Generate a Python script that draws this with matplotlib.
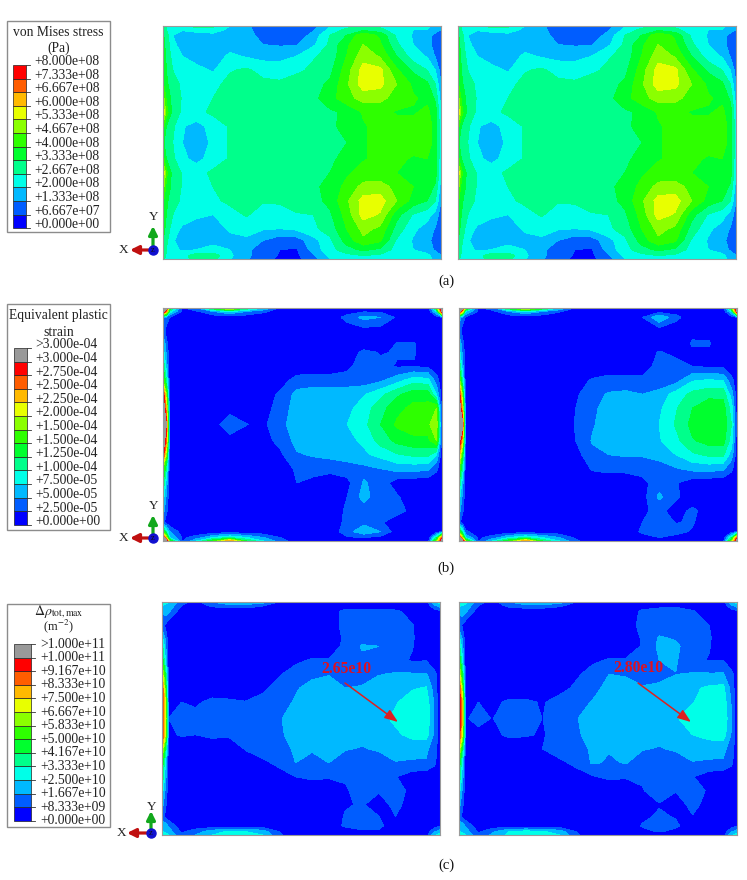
import numpy as np
import matplotlib
matplotlib.use('Agg')
import matplotlib.pyplot as plt
from matplotlib.patches import Rectangle

plt.rcParams['font.family'] = ['Liberation Serif', 'DejaVu Serif']
plt.rcParams['mathtext.fontset'] = 'stix'

# band colours, bottom to top
band_colors = ['#0000ff', '#005dff', '#00b9ff', '#00ffe8', '#00ff8b', '#00ff2e',
               '#2eff00', '#8bff00', '#e8ff00', '#ffb900', '#ff5d00', '#ff0000']
over_color = '#999999'

stress_labels = ['+8.000e+08', '+7.333e+08', '+6.667e+08', '+6.000e+08', '+5.333e+08',
                 '+4.667e+08', '+4.000e+08', '+3.333e+08', '+2.667e+08', '+2.000e+08',
                 '+1.333e+08', '+6.667e+07', '+0.000e+00']
strain_labels = ['>3.000e-04', '+3.000e-04', '+2.750e-04', '+2.500e-04', '+2.250e-04',
                 '+2.000e-04', '+1.500e-04', '+1.500e-04', '+1.250e-04', '+1.000e-04',
                 '+7.500e-05', '+5.000e-05', '+2.500e-05', '+0.000e+00']
rho_labels = ['>1.000e+11', '+1.000e+11', '+9.167e+10', '+8.333e+10', '+7.500e+10',
              '+6.667e+10', '+5.833e+10', '+5.000e+10', '+4.167e+10', '+3.333e+10',
              '+2.500e+10', '+1.667e+10', '+8.333e+09', '+0.000e+00']

# grid stops as fractions of the panel, y counted from the top
x_stress = [0, .012, .035, .07, .12, .18, .24, .3, .36, .42, .48, .54, .6, .66, .72, .78, .84, .9, .95, .98, 1]
y_stress = [0, .015, .04, .08, .13, .19, .25, .31, .37, .43, .5, .57, .63, .69, .75, .81, .87, .92, .96, .985, 1]
x_edge = [0, .012, .024, .07, .12, .18, .24, .3, .36, .42, .48, .54, .6, .66, .72, .78, .84, .9, .95, .98, 1]
y_edge = [0, .015, .04, .1, .155, .19, .25, .31, .37, .43, .5, .57, .63, .69, .75, .81, .87, .92, .96, .985, 1]

# fields in units of one legend band
stress_field = [
    [4.5,4,3.5,3.6,4.4,4.3,3,2.2,1.6,1,.9,1.6,3,3.6,4,3.8,3.4,3.2,3.2,2.6,2],
    [5,4,3.4,3.3,3.5,3.5,2.8,2.2,1.6,1.2,1.1,1.8,3.2,4.2,4.6,4.2,3.5,3,3,2.5,2],
    [5.2,4.4,3,1.9,2.4,2.7,2.6,2.3,1.7,1.4,1.2,2.4,4,5,6.8,5.8,3.8,2.9,2.5,1.6,1.5],
    [5.5,4.5,3.4,2.3,2.5,2.8,2.6,2.8,2,1.9,1.9,2.8,4.2,5.8,7,6.2,4.2,3,2.4,1.6,1.5],
    [5.8,4.8,3.6,3,2.6,2.4,3.2,2.9,2.7,2.7,3,3.9,4.3,6,7.6,6.9,5,3.5,2.9,1.9,1.5],
    [6,5,4,3.6,3.3,2.9,3.9,4.2,3.6,3.5,3.8,4.2,4.7,6.5,8.4,8.3,6.2,4.8,4,3,1.5],
    [6.2,5.2,4.4,3.8,3.4,3.7,4.3,4.5,4.3,4.2,4.5,4.6,5.2,6.8,8.5,8.3,7,5.8,5.2,4,2],
    [7.5,5.8,4.6,3.9,3.5,4,4.4,4.6,4.6,4.6,4.6,4.7,5.6,6.6,7.4,7.3,6.6,6.1,5.8,4.8,2.5],
    [9.2,6.5,4.6,3.8,3.7,4.2,4.5,4.6,4.6,4.6,4.6,4.7,4.8,5.2,6.1,6.3,5.9,5.9,6.2,5.5,3],
    [6.5,5,4.2,3.1,2.6,3.4,4.1,4.5,4.6,4.6,4.6,4.6,4.8,5.3,5.9,6.3,6.4,6.3,6.4,5.7,3.2],
    [5.2,4.6,4,3,2.4,3.2,4.1,4.5,4.6,4.6,4.6,4.6,4.7,4.98,5.9,6.3,6.4,6.4,6.4,5.7,3.2],
    [6.5,5,4.2,3.2,2.7,3.4,4.1,4.5,4.6,4.6,4.6,4.6,4.8,5.3,5.9,6.3,6.2,5.9,6,5.6,3.1],
    [9,6.3,4.6,3.9,3.6,4.2,4.5,4.6,4.6,4.6,4.6,4.7,5,5.8,6.4,6.4,6,5.8,5.7,5.4,3],
    [7.5,5.7,4.6,3.9,3.6,4,4.4,4.6,4.6,4.6,4.6,4.8,5.3,6.3,7.3,7.4,6.7,6,5.6,4.8,2.5],
    [6.2,5.2,4.4,3.8,3.5,3.8,4.2,4.4,4.1,4.2,4.5,4.6,5.3,6.8,8.4,8.5,7,5.6,5,4,2],
    [6,5,4,3.6,3.2,3,3.6,4.1,3.5,3.4,3.9,4,4.8,6.4,8.4,7.9,5.4,3.9,3.4,2.6,1.5],
    [5.5,4.6,3.5,2.8,2.5,2.6,3.1,3.4,3.1,3,3.2,3.8,4.4,6,7.3,6.8,4.6,3.2,2.6,1.9,1.5],
    [5,4.2,3.2,2.2,2.4,2.7,2.8,2.8,2,1.4,1.5,2.6,3.8,5.4,6.8,6.2,3.9,2.9,2.3,1.6,1.5],
    [4.8,4,3.4,2.8,3,3.3,3,2.2,1.5,1,.9,2.4,3.6,4.6,5.2,4.8,3.6,3,2.6,1.8,1.5],
    [4.5,3.9,3.5,3.6,4.5,4.5,3.2,2.2,1.5,.9,.8,1.8,3.2,3.7,4,3.8,3.4,3.2,3.2,2.7,2],
    [4.2,3.8,3.5,3.6,4.4,4.3,3.1,2.1,1.4,.8,.7,1.6,3,3.5,3.6,3.5,3.4,3.2,3.2,2.8,2.2],
]

strain_left = [
    [13,13,6,.8,2,6,10,5,3,.8,.3,.3,.3,.3,.3,.3,.3,.3,.3,6,13],
    [13,10,3.5,.8,.8,2,3,2,1.2,.5,.3,.3,.3,.5,.9,.8,.5,.3,.3,3,12],
    [2,1.5,1,.3,.2,.3,.3,.3,.3,.3,.3,.3,.3,1.4,2.3,2,.8,.3,.3,.5,.8],
    [1.5,.6,.3,.3,.3,.3,.3,.3,.3,.3,.3,.3,.3,.3,.5,.4,.3,.3,.3,.3,.3],
    [3,1.4,.3,.3,.3,.3,.3,.3,.3,.3,.3,.3,.3,.3,.3,.3,1.1,1.1,.3,.3,.3],
    [3.5,1.8,.3,.3,.3,.3,.3,.3,.3,.3,.3,.3,.3,.3,1.3,.9,1.1,1.1,.3,.3,.3],
    [5,2.5,.3,.3,.3,.3,.3,.3,.3,.3,.3,.3,.3,.7,1.6,1.3,.9,.9,.8,.3,.3],
    [7,4,.3,.3,.3,.3,.3,.3,.3,.5,1.4,1.5,1.5,1.5,1.4,1.8,2.6,3.6,3.3,1.5,.3],
    [12.5,7,.4,.3,.3,.3,.3,.3,.4,1.2,2.3,2.5,2.5,2.5,2.9,3.7,4.8,5.6,5.5,3,.3],
    [14,9,.5,.3,.3,.3,.8,.6,.5,1.5,2.4,2.6,2.8,2.7,3.5,4.6,5.7,6.3,6.4,7,.3],
    [14,12,.5,.3,.3,.8,1.3,1.02,.8,1.7,2.5,3,2.7,3,3.7,5,6.2,6.6,6.7,8,.3],
    [14,10,.5,.3,.3,.3,.8,.5,.6,1.3,2.3,2.5,2.5,2.7,3.2,4.4,5.3,5.7,5.7,7,.3],
    [12,7,.4,.3,.3,.3,.3,.3,.4,.8,1.9,2.1,2.3,2.5,2.8,3.3,3.9,4.2,4.3,3,.3],
    [7,4,.3,.3,.3,.3,.3,.3,.3,.3,1.2,1.4,1.3,1.5,1.7,2,2.4,2.4,2.2,1.2,.3],
    [5,2.5,.3,.3,.3,.3,.3,.3,.3,.3,1,.7,.4,.7,2.1,1.6,.4,.3,.3,.3,.3],
    [3.5,1.8,.3,.3,.3,.3,.3,.3,.3,.3,.3,.3,.3,1,2.4,1.3,1.1,.3,.3,.3,.3],
    [2.5,1.2,.3,.3,.3,.3,.3,.3,.3,.3,.3,.3,.3,1.2,1.5,1.05,1.3,.7,.3,.3,.3],
    [1.2,.6,.2,.3,.3,.3,.3,.3,.3,.3,.3,.3,.3,1.3,1.7,1.1,.5,.3,.3,.3,.3],
    [6,4,2,.5,.3,.3,.3,.3,.3,.3,.3,.3,.3,1.6,2.7,2,.4,.3,.3,.6,1],
    [13,8,3,.8,1.4,3,4,3,2,1,.3,.3,.3,.9,1,.7,.3,.3,.3,4,10],
    [13,13,6,.8,3,6,10,5,3,1.5,.3,.3,.3,.3,.3,.3,.3,.3,.3,7,13],
]

strain_right = [
    [13,13,7,.8,1.5,6,10,6,3,.8,.3,.3,.3,.3,.3,.3,.3,.3,.3,6,13],
    [13,9,3,.8,.7,2,3,2,1.1,.5,.3,.3,.3,.4,.6,.6,.3,.3,.3,3,12],
    [2.5,1.5,.9,.3,.3,.3,.3,.3,.3,.3,.3,.3,.3,1,2.9,1.3,.3,.3,.3,.5,.8],
    [1.5,.6,.3,.3,.3,.3,.3,.3,.3,.3,.3,.3,.3,.3,.3,.3,.7,.7,.3,.3,.3],
    [3,1.5,.3,.3,.3,.3,.3,.3,.3,.3,.3,.3,.3,.3,.3,0,1.15,1.1,0,.3,.3],
    [3.5,1.8,.3,.3,.3,.3,.3,.3,.3,.3,.3,.3,.3,.3,1.1,.7,.7,.7,.3,.3,.3],
    [5,2.5,.3,.3,.3,.3,.3,.3,.3,.3,.3,.3,.3,.3,1.5,1.4,1,.8,.8,.3,.3],
    [8,4,.3,.3,.3,.3,.3,.3,.3,.6,1.1,1.4,1.4,1.3,1.2,1.6,2.9,3.1,2.9,1.3,.3],
    [12.5,7,.4,.3,.3,.3,.3,.3,.3,.8,1.7,2.1,2.2,2,2.4,3.4,4.3,4.7,4.7,2.5,.4],
    [14,9,.5,.3,.3,.3,.3,.3,.4,1,1.8,2.4,2.5,2.5,2.8,3.9,5,5.6,5.5,3.5,.4],
    [14,13,.5,.3,.3,.3,.3,.3,.5,1.05,1.9,2.5,2.6,2.7,3,4.1,5.3,5.8,5.8,4,.5],
    [13,9,.5,.3,.3,.3,.3,.3,.4,1,2.1,2.5,2.6,2.7,2.9,3.7,4.9,5.4,5.4,3.5,.4],
    [10,6,.4,.3,.3,.3,.3,.3,.3,.6,1.7,2,2.1,2.1,2.3,3,3.8,4.2,4.2,2.5,.4],
    [7,4,.3,.3,.3,.3,.3,.3,.3,.3,1.1,1.3,1.3,1.4,1.6,1.9,2.3,2.4,2.2,1.2,.3],
    [5,2.5,.3,.3,.3,.3,.3,.3,.3,.3,.4,.3,.3,.7,1.5,1.1,.4,.3,.3,.3,.3],
    [3.5,1.8,.3,.3,.3,.3,.3,.3,.3,.3,.3,.3,.3,.6,2.2,1.2,.3,.3,.3,.3,.3],
    [2.5,1.2,.3,.3,.3,.3,.3,.3,.3,.3,.3,.3,.3,.8,1.3,.5,1.25,.4,.3,.3,.3],
    [1.2,.6,.2,.3,.3,.3,.3,.3,.3,.3,.3,.3,.3,1,1.5,.95,1.1,.3,.3,.3,.3],
    [6,4,1.2,.4,.3,.3,.3,.3,.3,.3,.3,.3,.3,1.2,1.9,1.3,.9,.3,.3,.6,1],
    [13,8,3,.8,1.4,3,4,3,2,.8,.3,.3,.3,.6,1,.7,.3,.3,.3,4,10],
    [13,13,7,.8,3,6,10,5,3,1.2,.3,.3,.3,.3,.3,.3,.3,.3,.3,7,13],
]

rho_left = [
    [3.5,3.5,3,1.5,.5,2,3.2,3.2,2.5,.9,.3,.3,.3,.3,.3,.3,.3,.3,.3,2.8,3.5],
    [3,2.8,2.8,1,.4,1.2,1.5,1.5,1.1,.5,.3,.3,.3,.3,.3,.3,.3,.3,.3,1.8,2.5],
    [2,2.6,2.2,.3,.3,.3,.3,.3,.3,.3,.3,.3,.5,1.3,1.4,1.3,1.2,.6,.3,.5,.7],
    [1.2,.8,.3,.3,.3,.3,.3,.3,.3,.3,.3,.3,.5,1.3,1.5,1.5,1.4,1.05,.4,.3,.3],
    [3.3,1.8,.3,.3,.3,.3,.3,.3,.3,.3,.3,.3,.3,1.2,1.6,1.6,1.4,1.1,.4,.3,.3],
    [4.5,2.3,.3,.3,.3,.3,.3,.3,.3,.3,.3,.3,.3,1.3,2.1,2,1.4,1.05,.4,.3,.3],
    [6,3,.3,.3,.3,.3,.3,.3,.3,.3,.8,1.1,1.1,1.2,1.8,2,1.3,.9,.95,.3,.3],
    [9,5,.3,.3,.3,.3,.3,.3,.5,.9,1.4,1.8,1.95,1.5,1.6,1.95,2.1,2.1,2.1,1.3,.3],
    [11.5,6.5,.3,.3,.3,.3,.3,.3,.8,1.3,1.9,2.3,2.4,2,2.1,2.5,2.7,2.9,3.1,1.5,.3],
    [12,8,.5,1,.8,1.3,1.2,1.05,1.3,1.6,2.1,2.4,2.4,2.2,2.3,2.6,2.9,3.5,3.6,1.8,.3],
    [12,8.5,1,1.3,1.4,1.5,1.5,1.4,1.5,1.95,2.2,2.4,2.4,2.3,2.4,2.7,3.2,3.8,3.8,1.9,.3],
    [12,8,.8,1.1,1,1.2,1.1,1.15,1.4,1.9,2.2,2.3,2.3,2.3,2.2,2.4,2.8,3.3,3.4,1.8,.3],
    [9,5,.3,.3,.3,.4,.5,1.05,1.4,1.7,2.1,2.05,2.2,2.05,1.95,2.1,2.4,2.3,2.2,1.5,.3],
    [6,3,.3,.3,.3,.3,.3,.6,.8,1.2,2,1.85,2,1.6,1.5,1.6,1.95,1.9,1.9,1.2,.3],
    [5,2.5,.3,.3,.3,.3,.3,.3,.3,.6,1,1.2,1.1,1.2,1.2,1.2,1.05,.4,.3,.3,.3],
    [3.5,1.8,.3,.3,.3,.3,.3,.3,.3,.3,.3,.3,.3,.8,1.7,1.1,1.3,.8,.3,.3,.3],
    [2.5,1.2,.3,.3,.3,.3,.3,.3,.3,.3,.3,.3,.3,.9,1.1,.5,1.3,.5,.3,.3,.3],
    [1.5,.8,.3,.3,.3,.3,.3,.3,.3,.3,.3,.3,.3,1.1,1.3,1,1,.3,.3,.3,.3],
    [2.5,2.5,1.8,.3,.3,.3,.3,.3,.3,.3,.3,.3,.3,1.2,1.5,1.3,.3,.3,.3,.5,.8],
    [3,2.8,2.5,.8,1.5,2.5,3.1,3,2.5,1,.3,.3,.3,.3,.8,.8,.3,.3,.3,1.8,2.5],
    [3.5,3.3,3,1.2,2,3,3.4,3.4,3,1.2,.3,.3,.3,.3,.3,.3,.3,.3,.3,2.8,3.5],
]

rho_right = [
    [3.6,3.6,3.2,1.5,.5,2,3.2,3.2,2.6,1,.3,.3,.3,.3,.3,.3,.3,.3,.3,2.8,3.5],
    [3.2,3,2.8,1,.4,1.3,1.6,1.6,1.2,.6,.3,.3,.3,.5,.7,.8,.5,.3,.3,1.8,2.5],
    [2.2,2.6,2.2,.3,.3,.3,.3,.3,.3,.3,.3,.3,.3,1.2,1.4,1.4,1.1,.4,.3,.5,.7],
    [1.4,.9,.3,.3,.3,.3,.3,.3,.3,.3,.3,.3,.5,1.3,1.5,.95,1.5,1,.4,.3,.3],
    [3.3,1.8,.3,.3,.3,.3,.3,.3,.3,.3,.3,.3,.4,1.1,2.1,1.9,1.5,1.1,.4,.3,.3],
    [4.5,2.3,.3,.3,.3,.3,.3,.3,.3,.3,.3,.3,.4,1.1,2.2,2.2,1.4,1.05,.4,.3,.3],
    [6.5,3.2,.3,.3,.3,.3,.3,.3,.3,.3,.8,1.1,1.1,1.05,2,2.1,1.2,.95,.98,.3,.3],
    [9,5,.3,.3,.3,.3,.3,.3,.3,.8,1.4,2,1.9,1.5,1.7,1.98,2.1,2.1,2.1,1.3,.3],
    [12,7,.3,.3,.3,.3,.3,.5,.6,1.2,1.7,2.3,2.4,2.1,2.2,2.5,2.8,3.2,3.3,1.6,.3],
    [12.5,9,.5,1,.7,1.2,1.2,.9,1.4,1.7,2.05,2.4,2.8,2.4,2.4,2.7,2.95,3.5,3.6,1.9,.3],
    [12.5,9,.9,1.3,.95,1.6,1.5,.98,1.5,1.95,2.3,2.5,2.9,2.5,2.5,2.9,3.5,3.9,3.9,2,.3],
    [12,8,.8,.7,.7,1.2,1.1,.9,1.4,1.9,2.2,2.3,2.3,2.3,2.2,2.4,3,3.4,3.5,1.9,.3],
    [9,5,.3,.3,.3,.3,.3,1,1.4,1.7,2.1,2.05,2.2,2.05,1.95,2.1,2.4,2.3,2.3,1.5,.3],
    [6,3,.3,.3,.3,.3,.3,.4,.8,1.2,2.1,1.9,2.05,1.6,1.5,1.6,1.95,1.9,1.85,1.2,.3],
    [5,2.5,.3,.3,.3,.3,.3,.3,.3,.6,.9,1.2,1.1,1.2,1.2,1.2,1.05,.4,.3,.3,.3],
    [3.5,1.8,.3,.3,.3,.3,.3,.3,.3,.3,.3,.3,.3,.9,1.7,1.05,1.3,.9,.3,.3,.3],
    [2.5,1.2,.3,.3,.3,.3,.3,.3,.3,.3,.3,.3,.3,.4,.9,.5,1.3,.6,.3,.3,.3],
    [1.5,.8,.3,.3,.3,.3,.3,.3,.3,.3,.3,.3,.3,.7,1.2,.9,.95,.3,.3,.3,.3],
    [2.5,2.5,1.8,.3,.3,.3,.3,.3,.3,.3,.3,.3,.3,1.1,1.5,1.2,.3,.3,.3,.5,.8],
    [3,2.8,2.5,.8,1.8,3,3.3,3.1,2.5,1,.3,.3,.3,.7,1.1,.7,.3,.3,.3,1.8,2.5],
    [3.6,3.4,3,1.2,2.2,3.2,3.5,3.4,3,1.2,.3,.3,.3,.3,.3,.3,.3,.3,.3,2.8,3.5],
]

W, H = 747, 880
fig = plt.figure(figsize=(W / 100, H / 100), dpi=100)


def draw_field(x0, x1, y0, y1, xs, ys, field, n_bands, over=False):
    ax = fig.add_axes([x0 / W, 1 - y1 / H, (x1 - x0) / W, (y1 - y0) / H])
    levels = list(range(n_bands + 1))
    colors = list(band_colors)
    if over:
        levels.append(20)
        colors.append(over_color)
    ax.contourf(xs, ys, np.array(field), levels=levels, colors=colors)
    ax.set_xlim(0, 1)
    ax.set_ylim(1, 0)
    ax.set_xticks([])
    ax.set_yticks([])
    for s in ax.spines.values():
        s.set_color('#9a9a9a')
        s.set_linewidth(0.8)
    return ax


draw_field(163, 441, 26, 259, x_stress, y_stress, stress_field, 12)
draw_field(458, 736, 26, 259, x_stress, y_stress, stress_field, 12)
draw_field(163, 442, 308, 541, x_edge, y_edge, strain_left, 12, over=True)
draw_field(459, 737, 308, 541, x_edge, y_edge, strain_right, 12, over=True)
draw_field(162, 440, 602, 835, x_edge, y_edge, rho_left, 12, over=True)
draw_field(459, 737, 602, 835, x_edge, y_edge, rho_right, 12, over=True)

# overlay in pixel coordinates for legends, triads and captions
ov = fig.add_axes([0, 0, 1, 1], facecolor='none')
ov.set_xlim(0, W)
ov.set_ylim(H, 0)
ov.axis('off')


def draw_legend(box, titles, labels, bar_x, bar_w, bar_top, label_x, label_dy, over=False):
    x0, y0, x1, y1 = box
    ov.add_patch(Rectangle((x0, y0), x1 - x0, y1 - y0, fc='white', ec='#8c8c8c', lw=1.0))
    for ty, t, size in titles:
        ov.text((x0 + x1) / 2, ty, t, ha='center', va='center', fontsize=size, color='#222222')
    colors = list(band_colors) + ([over_color] if over else [])
    step = 13.6
    n = len(colors)
    for i, c in enumerate(colors):
        top = bar_top + (n - 1 - i) * step
        ov.bar(bar_x + bar_w / 2, step, width=bar_w, bottom=top, color=c, edgecolor='#222222', linewidth=0.5)
    for i, lab in enumerate(labels):
        ty = bar_top + i * step
        ov.plot([bar_x + bar_w, bar_x + bar_w + 4], [ty, ty], color='#333333', lw=0.6)
        ov.text(label_x, ty + label_dy, lab, ha='left', va='center', fontsize=9.8, color='#222222')


def draw_triad(x, y, top, y_text, x_tip, x_text):
    ov.annotate('', xy=(x, top), xytext=(x, y), arrowprops=dict(arrowstyle='-|>,head_width=0.25,head_length=0.5', color='#12a81c', lw=2.3, shrinkA=0, shrinkB=0))
    ov.annotate('', xy=(x_tip, y), xytext=(x, y), arrowprops=dict(arrowstyle='-|>,head_width=0.25,head_length=0.5', color='#c01010', lw=2.3, shrinkA=0, shrinkB=0))
    ov.plot([x], [y], 'o', color='#1010d0', ms=6.5, zorder=5)
    ov.text(x, y, 'z', ha='center', va='center', fontsize=6, zorder=6, color='#111111')
    ov.text(x + 1, y_text, 'Y', ha='center', va='center', fontsize=9.5, color='#222222')
    ov.text(x_text, y, 'X', ha='center', va='center', fontsize=9.5, color='#222222')


draw_legend((7, 21, 110, 232), [(32, 'von Mises stress', 9.8), (48, '(Pa)', 9.8)],
            stress_labels, 13, 13, 65, 34, -3.5)
draw_legend((7, 304, 110, 530), [(316, 'Equivalent plastic', 9.8), (332, 'strain', 9.8)],
            strain_labels, 14, 13, 348, 35, -3, over=True)
draw_legend((7, 604, 110, 827), [(612, r'$\Delta\rho_{\mathrm{tot,max}}$', 10), (626, r'(m$^{-2}$)', 9)],
            rho_labels, 14, 17, 644, 40, 0, over=True)

draw_triad(153, 250, 226, 217, 130, 124)
draw_triad(153, 538, 515, 506, 130, 124)
draw_triad(151, 833, 811, 807, 127, 122)

for x, y, t in [(446, 281, '(a)'), (446, 568, '(b)'), (446, 865, '(c)')]:
    ov.text(x, y, t, ha='center', va='center', fontsize=10.5, color='#111111')

for tx, ty, s, x_a, y_a, x_b, y_b in [(346, 669, '2.65e10', 345, 683, 398, 722),
                                      (638, 668, '2.80e10', 638, 683, 691, 722)]:
    ov.text(tx, ty, s, ha='center', va='center', fontsize=11.3, fontweight='bold', color='#e01020')
    ov.annotate('', xy=(x_b, y_b), xytext=(x_a, y_a),
                arrowprops=dict(arrowstyle='-|>,head_width=0.3,head_length=0.8', color='#dd2020', lw=1.1, shrinkA=0, shrinkB=0))

fig.savefig('out.png', dpi=100)
